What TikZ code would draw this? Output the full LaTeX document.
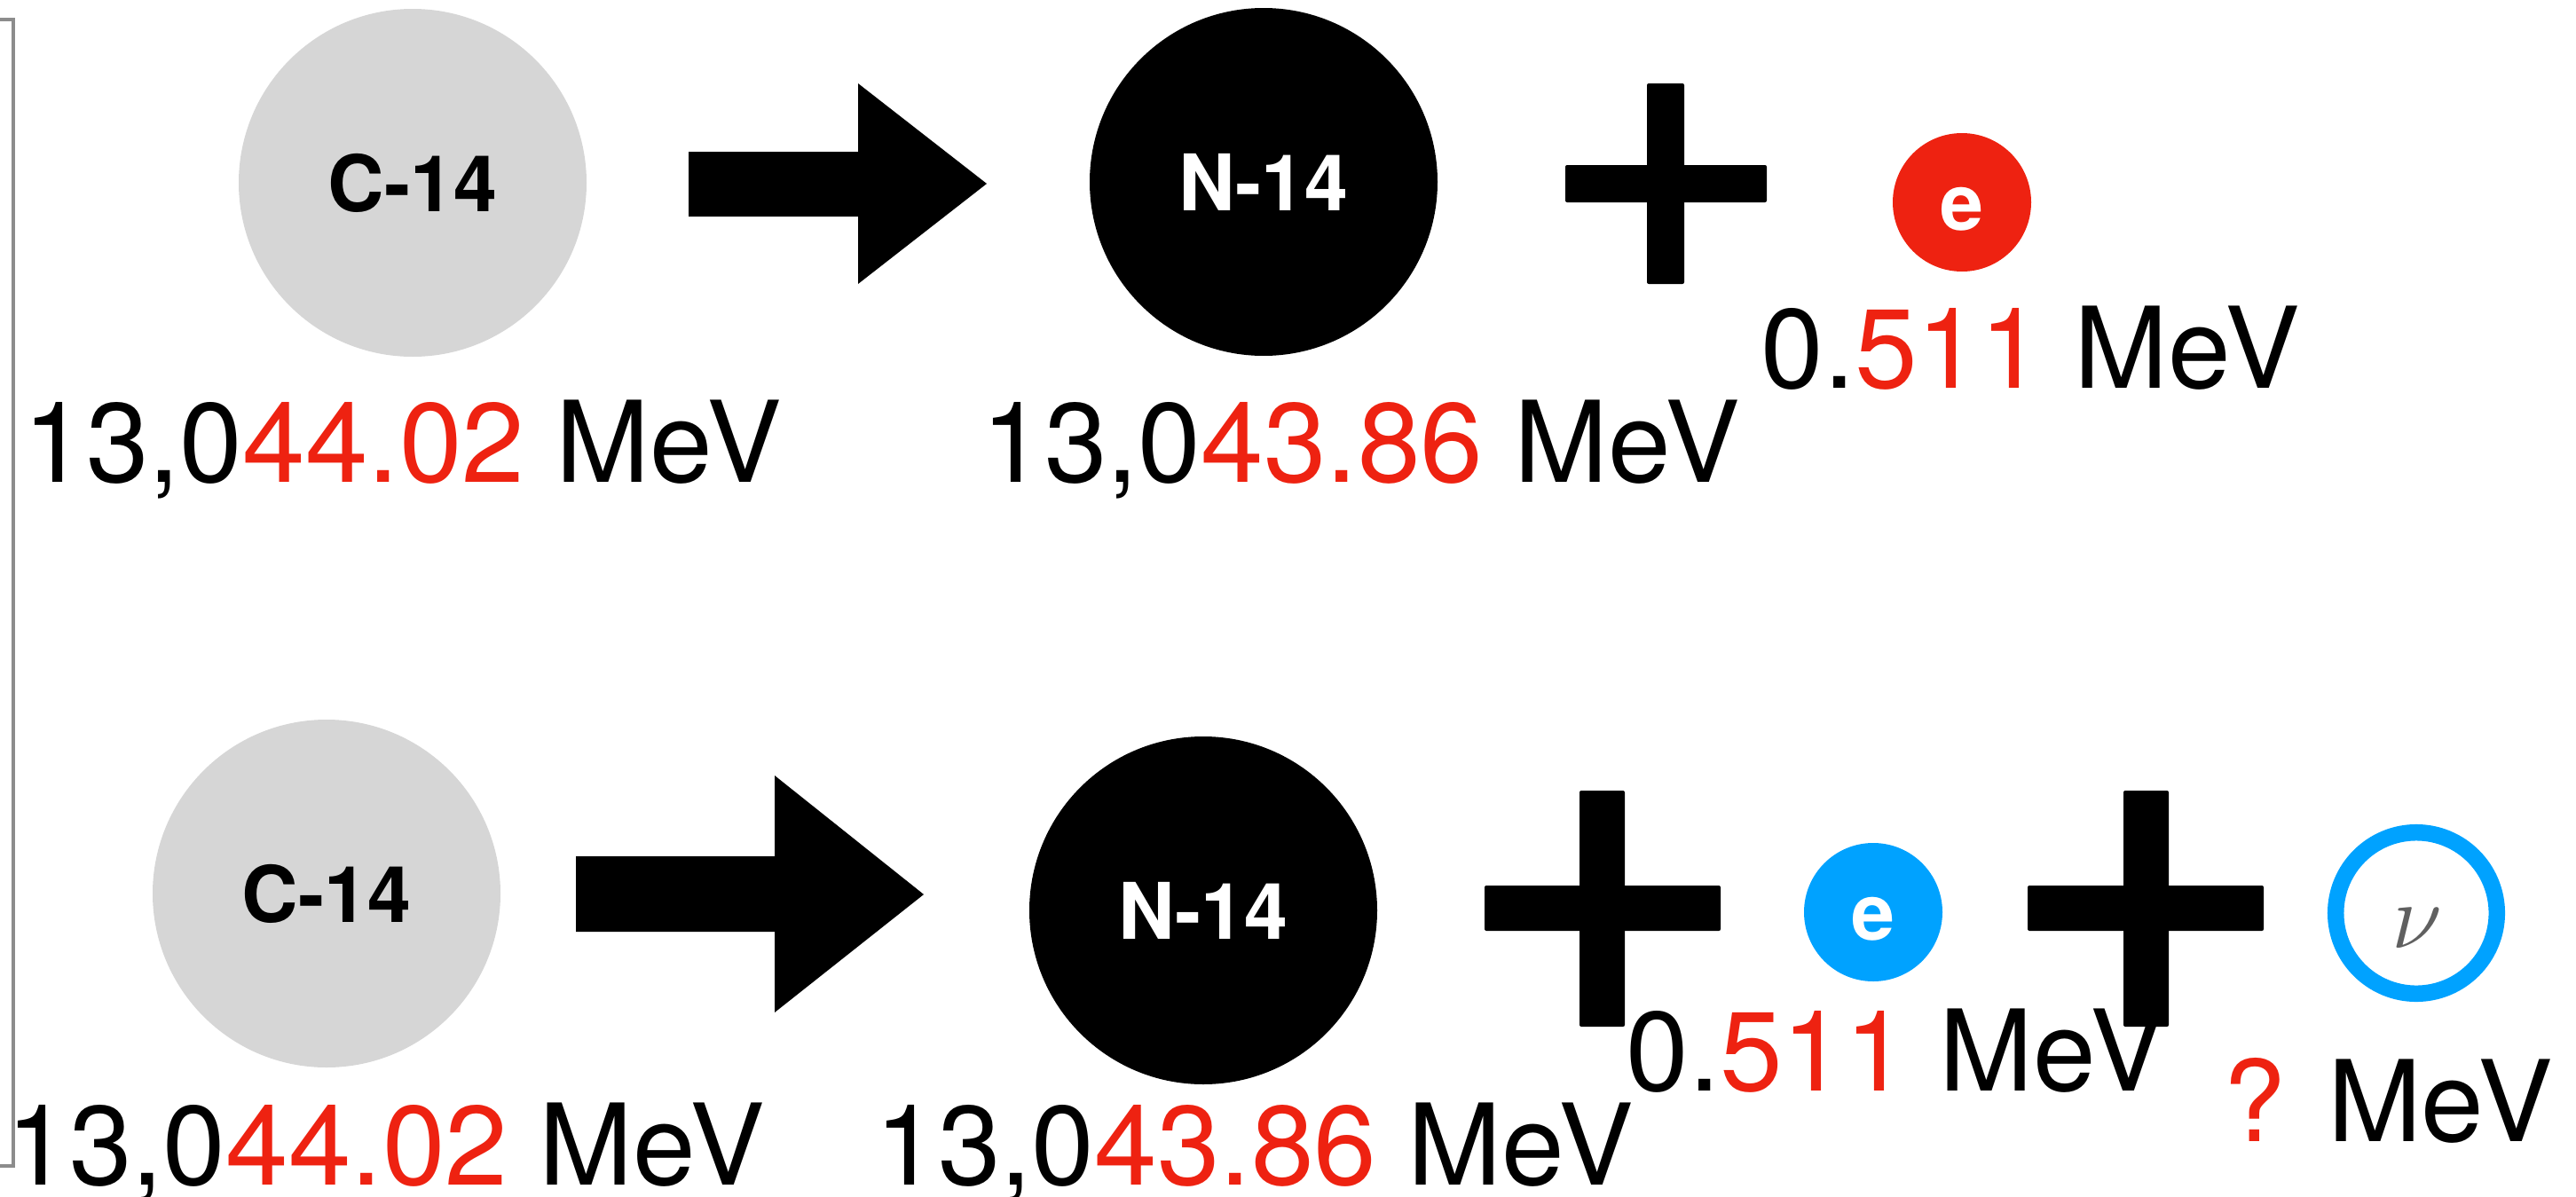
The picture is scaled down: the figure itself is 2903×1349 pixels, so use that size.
\RequirePackage{fix-cm}
\documentclass[tikz,border=0pt]{standalone}
\usepackage{fontspec}
\setmainfont{TeX Gyre Heros}
\definecolor{myred}{HTML}{EE2211}
\definecolor{myblue}{HTML}{00A2FF}
\definecolor{nucgray}{HTML}{D6D6D6}
\definecolor{brgray}{HTML}{8C8C8C}
\definecolor{nugray}{HTML}{606060}
\begin{document}
\begin{tikzpicture}[x=0.5pt,y=-0.5pt,
  nucleus/.style={circle, minimum size=196pt, inner sep=0pt, font=\fontsize{44}{50}\selectfont\bfseries},
  elec/.style={circle, minimum size=78pt, inner sep=0pt},
  etext/.style={font=\fontsize{44}{50}\selectfont\bfseries, text=white, inner sep=0pt},
  energy/.style={anchor=base west, inner sep=0pt, font=\fontsize{63.5}{70}\selectfont},
  bigarrow/.style={fill=black},
  plusbar/.style={fill=black, rounded corners=1pt}]
\useasboundingbox (0,0) rectangle (2903,1349);

% bracket
\draw[brgray, line width=1.6pt] (0,22) -- (15,22) -- (15,1314) -- (0,1314);

% ---------- top row ----------
\node[nucleus, fill=nucgray] (c1) at (465,206) {C-14};
\node[nucleus, fill=black, text=white] (n1) at (1424,205) {N-14};
\node[elec, fill=myred] (e1) at (2211,228) {};
\node[etext] (e1t) at ([yshift=-4pt]e1.center) {e};

\fill[bigarrow] (776,171) -- (967,171) -- (967,94) -- (1112,207) -- (967,320) -- (967,244) -- (776,244) -- cycle;
\fill[plusbar] (1764,186) rectangle (1991,228);
\fill[plusbar] (1856,94) rectangle (1898,320);

\node[energy] (l1) at (26,543) {13,0\textcolor{myred}{44.02} MeV};
\node[energy] (l2) at (1106,543) {13,0\textcolor{myred}{43.86} MeV};
\node[energy] (l3) at (1984,437) {0.\textcolor{myred}{511} MeV};

% ---------- bottom row ----------
\node[nucleus, fill=nucgray] (c2) at (368,1007) {C-14};
\node[nucleus, fill=black, text=white] (n2) at (1356,1026) {N-14};
\node[elec, fill=myblue] (e2) at (2111,1028) {};
\node[etext] (e2t) at ([yshift=-4pt]e2.center) {e};
\node[circle, draw=myblue, line width=9.25pt, minimum size=90.8pt, inner sep=0pt] (nu) at (2723,1029) {};
\node[text=nugray, inner sep=0pt, font=\fontsize{52}{58}\selectfont] (nut) at (2724,1046) {$\nu$};

\fill[bigarrow] (649,965) -- (873,965) -- (873,874) -- (1041,1008) -- (873,1141) -- (873,1050) -- (649,1050) -- cycle;
\fill[plusbar] (1673,998) rectangle (1939,1049);
\fill[plusbar] (1780,891) rectangle (1831,1157);
\fill[plusbar] (2285,998) rectangle (2551,1049);
\fill[plusbar] (2393,891) rectangle (2444,1157);

\node[energy] (l4) at (7,1335) {13,0\textcolor{myred}{44.02} MeV};
\node[energy] (l5) at (986,1335) {13,0\textcolor{myred}{43.86} MeV};
\node[energy] (l6) at (1832,1229) {0.\textcolor{myred}{511} MeV};
\node[energy] (l7) at (2505,1286) {\textcolor{myred}{?} MeV};
\end{tikzpicture}
\end{document}
